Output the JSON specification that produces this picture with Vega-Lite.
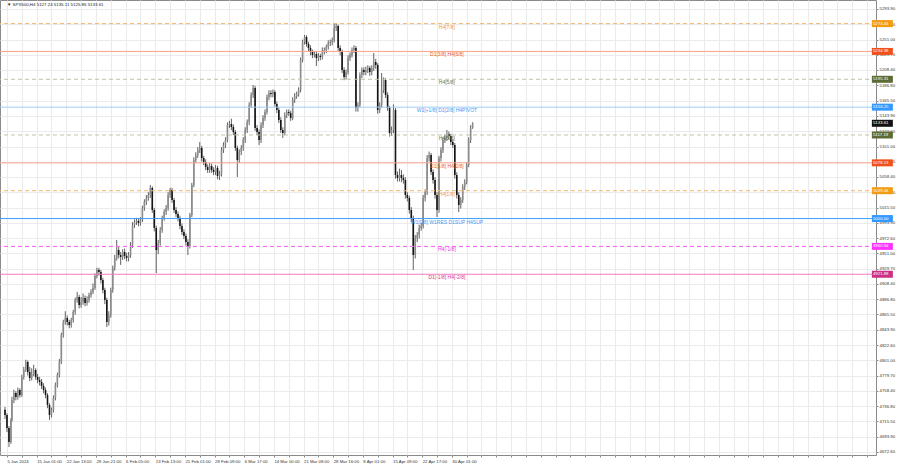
{
  "$schema": "https://vega.github.io/schema/vega-lite/v6.json",
  "width": 876,
  "height": 455,
  "autosize": "none",
  "padding": {"left": 0, "top": 0, "right": 24, "bottom": 13},
  "background": "white",
  "config": {"view": {"stroke": "#8a8a8a", "strokeWidth": 1}, "font": "Liberation Sans"},
  "datasets": {
    "bars": [
      {"i":0,"o":4732.0,"h":4736.0,"l":4719.0,"c":4724.5},
      {"i":2,"o":4724.5,"h":4727.0,"l":4700.5,"c":4706.3},
      {"i":4,"o":4706.3,"h":4709.0,"l":4679.6,"c":4686.6},
      {"i":6,"o":4686.6,"h":4720.0,"l":4684.0,"c":4717.5},
      {"i":7,"o":4717.5,"h":4750.0,"l":4715.0,"c":4745.5},
      {"i":9,"o":4745.5,"h":4760.0,"l":4741.0,"c":4755.3},
      {"i":11,"o":4755.3,"h":4758.0,"l":4745.0,"c":4749.7},
      {"i":13,"o":4749.7,"h":4763.0,"l":4746.0,"c":4759.5},
      {"i":15,"o":4759.5,"h":4762.0,"l":4749.0,"c":4752.5},
      {"i":17,"o":4752.5,"h":4781.0,"l":4750.0,"c":4777.8},
      {"i":19,"o":4777.8,"h":4792.0,"l":4774.0,"c":4787.6},
      {"i":21,"o":4787.6,"h":4802.0,"l":4785.0,"c":4798.8},
      {"i":23,"o":4798.8,"h":4801.0,"l":4780.0,"c":4784.8},
      {"i":25,"o":4784.8,"h":4792.0,"l":4772.0,"c":4776.4},
      {"i":27,"o":4776.4,"h":4790.0,"l":4773.0,"c":4782.0},
      {"i":29,"o":4782.0,"h":4795.0,"l":4779.0,"c":4787.6},
      {"i":31,"o":4787.6,"h":4790.0,"l":4774.0,"c":4777.8},
      {"i":33,"o":4777.8,"h":4782.0,"l":4769.0,"c":4773.6},
      {"i":35,"o":4773.6,"h":4778.0,"l":4766.0,"c":4770.8},
      {"i":37,"o":4770.8,"h":4775.0,"l":4761.0,"c":4765.2},
      {"i":39,"o":4765.2,"h":4769.0,"l":4755.0,"c":4759.5},
      {"i":41,"o":4759.5,"h":4763.0,"l":4748.0,"c":4752.5},
      {"i":43,"o":4752.5,"h":4755.0,"l":4734.0,"c":4738.5},
      {"i":45,"o":4738.5,"h":4741.0,"l":4717.5,"c":4724.5},
      {"i":47,"o":4724.5,"h":4735.0,"l":4721.0,"c":4731.5},
      {"i":49,"o":4731.5,"h":4752.0,"l":4728.0,"c":4748.3},
      {"i":51,"o":4748.3,"h":4770.0,"l":4745.0,"c":4766.6},
      {"i":53,"o":4766.6,"h":4784.0,"l":4763.0,"c":4780.6},
      {"i":55,"o":4780.6,"h":4803.0,"l":4777.0,"c":4798.8},
      {"i":57,"o":4798.8,"h":4840.0,"l":4796.0,"c":4836.7},
      {"i":59,"o":4836.7,"h":4858.0,"l":4833.0,"c":4854.9},
      {"i":61,"o":4854.9,"h":4870.0,"l":4851.0,"c":4860.5},
      {"i":63,"o":4860.5,"h":4864.0,"l":4850.0,"c":4854.9},
      {"i":65,"o":4854.9,"h":4858.0,"l":4846.0,"c":4850.7},
      {"i":67,"o":4850.7,"h":4861.0,"l":4847.0,"c":4857.7},
      {"i":69,"o":4857.7,"h":4872.0,"l":4854.0,"c":4868.9},
      {"i":71,"o":4868.9,"h":4889.0,"l":4865.0,"c":4885.8},
      {"i":73,"o":4885.8,"h":4897.0,"l":4882.0,"c":4890.0},
      {"i":75,"o":4890.0,"h":4893.0,"l":4874.0,"c":4878.8},
      {"i":77,"o":4878.8,"h":4890.0,"l":4875.0,"c":4883.0},
      {"i":79,"o":4883.0,"h":4895.0,"l":4879.0,"c":4888.6},
      {"i":81,"o":4888.6,"h":4892.0,"l":4877.0,"c":4881.6},
      {"i":83,"o":4881.6,"h":4891.0,"l":4878.0,"c":4885.8},
      {"i":85,"o":4885.8,"h":4896.0,"l":4882.0,"c":4892.8},
      {"i":87,"o":4892.8,"h":4901.0,"l":4889.0,"c":4897.0},
      {"i":89,"o":4897.0,"h":4909.0,"l":4894.0,"c":4902.6},
      {"i":91,"o":4902.6,"h":4923.0,"l":4900.0,"c":4919.4},
      {"i":93,"o":4919.4,"h":4931.0,"l":4916.0,"c":4927.8},
      {"i":95,"o":4927.8,"h":4931.0,"l":4920.0,"c":4925.0},
      {"i":97,"o":4925.0,"h":4928.0,"l":4909.0,"c":4913.8},
      {"i":99,"o":4913.8,"h":4917.0,"l":4895.0,"c":4899.8},
      {"i":101,"o":4899.8,"h":4903.0,"l":4880.0,"c":4885.8},
      {"i":103,"o":4885.8,"h":4889.0,"l":4847.9,"c":4854.9},
      {"i":105,"o":4854.9,"h":4870.0,"l":4850.0,"c":4864.7},
      {"i":107,"o":4864.7,"h":4903.0,"l":4861.0,"c":4899.8},
      {"i":109,"o":4899.8,"h":4934.0,"l":4896.0,"c":4930.7},
      {"i":111,"o":4930.7,"h":4949.0,"l":4927.0,"c":4944.7},
      {"i":113,"o":4944.7,"h":4970.0,"l":4941.0,"c":4955.9},
      {"i":115,"o":4955.9,"h":4960.0,"l":4944.0,"c":4948.9},
      {"i":117,"o":4948.9,"h":4953.0,"l":4935.0,"c":4946.1},
      {"i":119,"o":4946.1,"h":4957.0,"l":4942.0,"c":4953.1},
      {"i":121,"o":4953.1,"h":4958.0,"l":4943.0,"c":4947.5},
      {"i":123,"o":4947.5,"h":4952.0,"l":4940.0,"c":4944.7},
      {"i":125,"o":4944.7,"h":4953.0,"l":4940.0,"c":4948.9},
      {"i":127,"o":4948.9,"h":4967.0,"l":4945.0,"c":4962.9},
      {"i":129,"o":4962.9,"h":4995.0,"l":4959.0,"c":4991.0},
      {"i":131,"o":4991.0,"h":4999.0,"l":4987.0,"c":4995.2},
      {"i":133,"o":4995.2,"h":5001.0,"l":4991.0,"c":4996.6},
      {"i":135,"o":4996.6,"h":5000.0,"l":4989.0,"c":4993.8},
      {"i":137,"o":4993.8,"h":5002.0,"l":4990.0,"c":4998.0},
      {"i":139,"o":4998.0,"h":5018.0,"l":4995.0,"c":5014.8},
      {"i":141,"o":5014.8,"h":5027.0,"l":5011.0,"c":5023.2},
      {"i":143,"o":5023.2,"h":5033.0,"l":5019.0,"c":5028.8},
      {"i":145,"o":5028.8,"h":5037.0,"l":5025.0,"c":5033.0},
      {"i":147,"o":5033.0,"h":5047.1,"l":5029.0,"c":5042.9},
      {"i":149,"o":5042.9,"h":5045.0,"l":5008.0,"c":5012.0},
      {"i":151,"o":5012.0,"h":5015.0,"l":4982.0,"c":4986.8},
      {"i":153,"o":4986.8,"h":4990.0,"l":4923.6,"c":4955.9},
      {"i":155,"o":4955.9,"h":4970.0,"l":4950.0,"c":4965.7},
      {"i":157,"o":4965.7,"h":4988.0,"l":4962.0,"c":4983.9},
      {"i":159,"o":4983.9,"h":5004.0,"l":4980.0,"c":5000.8},
      {"i":161,"o":5000.8,"h":5013.0,"l":4997.0,"c":5009.2},
      {"i":163,"o":5009.2,"h":5019.0,"l":5005.0,"c":5014.8},
      {"i":165,"o":5014.8,"h":5037.0,"l":5011.0,"c":5033.0},
      {"i":167,"o":5033.0,"h":5042.9,"l":5029.0,"c":5040.0},
      {"i":169,"o":5040.0,"h":5043.0,"l":5022.0,"c":5026.0},
      {"i":171,"o":5026.0,"h":5029.0,"l":5008.0,"c":5012.0},
      {"i":173,"o":5012.0,"h":5016.0,"l":5002.0,"c":5006.4},
      {"i":175,"o":5006.4,"h":5010.0,"l":4996.0,"c":5000.8},
      {"i":177,"o":5000.8,"h":5004.0,"l":4985.0,"c":4989.6},
      {"i":179,"o":4989.6,"h":4993.0,"l":4977.0,"c":4981.1},
      {"i":181,"o":4981.1,"h":4985.0,"l":4971.0,"c":4975.5},
      {"i":183,"o":4975.5,"h":4979.0,"l":4962.0,"c":4967.1},
      {"i":185,"o":4967.1,"h":4971.0,"l":4948.9,"c":4961.5},
      {"i":187,"o":4961.5,"h":5008.0,"l":4958.0,"c":5005.0},
      {"i":189,"o":5005.0,"h":5050.0,"l":5002.0,"c":5047.1},
      {"i":191,"o":5047.1,"h":5086.0,"l":5044.0,"c":5082.1},
      {"i":193,"o":5082.1,"h":5093.0,"l":5078.0,"c":5089.1},
      {"i":195,"o":5089.1,"h":5100.0,"l":5085.0,"c":5096.1},
      {"i":197,"o":5096.1,"h":5107.4,"l":5092.0,"c":5099.0},
      {"i":199,"o":5099.0,"h":5102.0,"l":5080.0,"c":5084.9},
      {"i":201,"o":5084.9,"h":5088.0,"l":5075.0,"c":5079.3},
      {"i":203,"o":5079.3,"h":5083.0,"l":5068.0,"c":5072.3},
      {"i":205,"o":5072.3,"h":5076.0,"l":5064.0,"c":5068.1},
      {"i":207,"o":5068.1,"h":5078.0,"l":5064.0,"c":5073.7},
      {"i":209,"o":5073.7,"h":5077.0,"l":5064.0,"c":5068.1},
      {"i":211,"o":5068.1,"h":5072.0,"l":5061.0,"c":5065.3},
      {"i":213,"o":5065.3,"h":5075.0,"l":5061.0,"c":5070.9},
      {"i":215,"o":5070.9,"h":5074.0,"l":5055.0,"c":5059.7},
      {"i":217,"o":5059.7,"h":5067.0,"l":5054.0,"c":5062.5},
      {"i":219,"o":5062.5,"h":5100.0,"l":5059.0,"c":5096.1},
      {"i":221,"o":5096.1,"h":5107.0,"l":5092.0,"c":5103.2},
      {"i":223,"o":5103.2,"h":5114.0,"l":5099.0,"c":5110.2},
      {"i":225,"o":5110.2,"h":5135.0,"l":5107.0,"c":5131.2},
      {"i":227,"o":5131.2,"h":5137.0,"l":5127.0,"c":5132.6},
      {"i":229,"o":5132.6,"h":5140.0,"l":5124.0,"c":5128.4},
      {"i":231,"o":5128.4,"h":5132.0,"l":5117.0,"c":5121.4},
      {"i":233,"o":5121.4,"h":5124.0,"l":5095.0,"c":5099.0},
      {"i":235,"o":5099.0,"h":5102.0,"l":5058.3,"c":5082.1},
      {"i":237,"o":5082.1,"h":5097.0,"l":5078.0,"c":5093.3},
      {"i":239,"o":5093.3,"h":5103.0,"l":5089.0,"c":5099.0},
      {"i":241,"o":5099.0,"h":5114.0,"l":5095.0,"c":5110.2},
      {"i":243,"o":5110.2,"h":5128.0,"l":5106.0,"c":5124.2},
      {"i":245,"o":5124.2,"h":5139.0,"l":5120.0,"c":5135.4},
      {"i":247,"o":5135.4,"h":5163.0,"l":5131.0,"c":5159.3},
      {"i":249,"o":5159.3,"h":5177.0,"l":5155.0,"c":5173.3},
      {"i":251,"o":5173.3,"h":5187.3,"l":5169.0,"c":5183.1},
      {"i":253,"o":5183.1,"h":5186.0,"l":5123.0,"c":5127.0},
      {"i":255,"o":5127.0,"h":5131.0,"l":5117.0,"c":5121.4},
      {"i":257,"o":5121.4,"h":5125.0,"l":5103.2,"c":5110.2},
      {"i":259,"o":5110.2,"h":5135.0,"l":5106.0,"c":5131.2},
      {"i":261,"o":5131.2,"h":5145.0,"l":5127.0,"c":5141.0},
      {"i":263,"o":5141.0,"h":5153.0,"l":5137.0,"c":5149.4},
      {"i":265,"o":5149.4,"h":5174.0,"l":5146.0,"c":5170.5},
      {"i":267,"o":5170.5,"h":5180.0,"l":5166.0,"c":5176.1},
      {"i":269,"o":5176.1,"h":5180.0,"l":5170.0,"c":5174.7},
      {"i":271,"o":5174.7,"h":5181.0,"l":5170.0,"c":5177.5},
      {"i":273,"o":5177.5,"h":5180.0,"l":5157.0,"c":5160.7},
      {"i":275,"o":5160.7,"h":5164.0,"l":5148.0,"c":5152.2},
      {"i":277,"o":5152.2,"h":5156.0,"l":5134.0,"c":5138.2},
      {"i":279,"o":5138.2,"h":5142.0,"l":5120.0,"c":5124.2},
      {"i":281,"o":5124.2,"h":5128.0,"l":5113.0,"c":5120.0},
      {"i":283,"o":5120.0,"h":5149.0,"l":5117.0,"c":5145.2},
      {"i":285,"o":5145.2,"h":5153.0,"l":5141.0,"c":5149.4},
      {"i":287,"o":5149.4,"h":5153.0,"l":5144.0,"c":5148.0},
      {"i":289,"o":5148.0,"h":5151.0,"l":5137.0,"c":5141.0},
      {"i":291,"o":5141.0,"h":5170.0,"l":5138.0,"c":5166.3},
      {"i":293,"o":5166.3,"h":5176.0,"l":5162.0,"c":5171.9},
      {"i":295,"o":5171.9,"h":5178.0,"l":5168.0,"c":5174.7},
      {"i":297,"o":5174.7,"h":5184.0,"l":5171.0,"c":5180.3},
      {"i":299,"o":5180.3,"h":5226.0,"l":5177.0,"c":5222.4},
      {"i":301,"o":5222.4,"h":5251.0,"l":5219.0,"c":5247.6},
      {"i":303,"o":5247.6,"h":5257.4,"l":5244.0,"c":5254.6},
      {"i":305,"o":5254.6,"h":5257.0,"l":5241.0,"c":5244.8},
      {"i":307,"o":5244.8,"h":5248.0,"l":5235.0,"c":5239.2},
      {"i":309,"o":5239.2,"h":5243.0,"l":5229.0,"c":5233.6},
      {"i":311,"o":5233.6,"h":5237.0,"l":5225.0,"c":5229.4},
      {"i":313,"o":5229.4,"h":5235.0,"l":5226.0,"c":5230.8},
      {"i":315,"o":5230.8,"h":5234.0,"l":5214.0,"c":5225.2},
      {"i":317,"o":5225.2,"h":5232.0,"l":5221.0,"c":5228.0},
      {"i":319,"o":5228.0,"h":5231.0,"l":5222.0,"c":5226.6},
      {"i":321,"o":5226.6,"h":5240.0,"l":5223.0,"c":5233.6},
      {"i":323,"o":5233.6,"h":5240.0,"l":5230.0,"c":5236.4},
      {"i":325,"o":5236.4,"h":5244.0,"l":5232.0,"c":5240.6},
      {"i":327,"o":5240.6,"h":5250.0,"l":5237.0,"c":5246.2},
      {"i":329,"o":5246.2,"h":5251.0,"l":5242.0,"c":5247.6},
      {"i":331,"o":5247.6,"h":5254.0,"l":5243.0,"c":5250.4},
      {"i":333,"o":5250.4,"h":5274.3,"l":5247.0,"c":5267.3},
      {"i":335,"o":5267.3,"h":5274.3,"l":5263.0,"c":5270.1},
      {"i":337,"o":5270.1,"h":5272.0,"l":5235.0,"c":5239.2},
      {"i":339,"o":5239.2,"h":5243.0,"l":5229.0,"c":5233.6},
      {"i":341,"o":5233.6,"h":5237.0,"l":5204.0,"c":5208.3},
      {"i":343,"o":5208.3,"h":5212.0,"l":5194.0,"c":5198.5},
      {"i":345,"o":5198.5,"h":5209.0,"l":5195.0,"c":5205.5},
      {"i":347,"o":5205.5,"h":5229.0,"l":5202.0,"c":5225.2},
      {"i":349,"o":5225.2,"h":5233.0,"l":5221.0,"c":5229.4},
      {"i":351,"o":5229.4,"h":5240.0,"l":5226.0,"c":5236.4},
      {"i":353,"o":5236.4,"h":5243.0,"l":5232.0,"c":5239.2},
      {"i":355,"o":5239.2,"h":5242.0,"l":5150.0,"c":5155.1},
      {"i":357,"o":5155.1,"h":5163.0,"l":5150.0,"c":5159.3},
      {"i":359,"o":5159.3,"h":5205.0,"l":5156.0,"c":5201.3},
      {"i":361,"o":5201.3,"h":5212.0,"l":5197.0,"c":5208.3},
      {"i":363,"o":5208.3,"h":5212.0,"l":5201.0,"c":5205.5},
      {"i":365,"o":5205.5,"h":5213.0,"l":5201.0,"c":5208.3},
      {"i":367,"o":5208.3,"h":5215.0,"l":5204.0,"c":5211.2},
      {"i":369,"o":5211.2,"h":5214.0,"l":5200.0,"c":5205.5},
      {"i":371,"o":5205.5,"h":5215.0,"l":5201.0,"c":5211.2},
      {"i":373,"o":5211.2,"h":5232.2,"l":5207.0,"c":5219.6},
      {"i":375,"o":5219.6,"h":5224.0,"l":5210.0,"c":5215.4},
      {"i":377,"o":5215.4,"h":5218.0,"l":5147.0,"c":5152.2},
      {"i":379,"o":5152.2,"h":5163.0,"l":5148.0,"c":5159.3},
      {"i":381,"o":5159.3,"h":5204.1,"l":5155.0,"c":5180.3},
      {"i":383,"o":5180.3,"h":5198.0,"l":5176.0,"c":5194.3},
      {"i":385,"o":5194.3,"h":5197.0,"l":5169.0,"c":5173.3},
      {"i":387,"o":5173.3,"h":5177.0,"l":5151.0,"c":5155.1},
      {"i":389,"o":5155.1,"h":5158.0,"l":5115.0,"c":5120.0},
      {"i":391,"o":5120.0,"h":5129.0,"l":5116.0,"c":5124.2},
      {"i":393,"o":5124.2,"h":5160.0,"l":5120.0,"c":5152.2},
      {"i":395,"o":5152.2,"h":5155.0,"l":5056.0,"c":5061.1},
      {"i":397,"o":5061.1,"h":5066.0,"l":5052.0,"c":5056.9},
      {"i":399,"o":5056.9,"h":5070.0,"l":5052.0,"c":5061.1},
      {"i":401,"o":5061.1,"h":5068.0,"l":5051.0,"c":5056.9},
      {"i":403,"o":5056.9,"h":5062.0,"l":5049.0,"c":5054.1},
      {"i":405,"o":5054.1,"h":5058.0,"l":5028.0,"c":5033.0},
      {"i":407,"o":5033.0,"h":5037.0,"l":5024.0,"c":5028.8},
      {"i":409,"o":5028.8,"h":5032.0,"l":5007.0,"c":5012.0},
      {"i":411,"o":5012.0,"h":5016.0,"l":4995.0,"c":5000.8},
      {"i":413,"o":5000.8,"h":5004.0,"l":4927.8,"c":4948.9},
      {"i":415,"o":4948.9,"h":4977.0,"l":4944.0,"c":4972.7},
      {"i":417,"o":4972.7,"h":4981.0,"l":4967.0,"c":4976.9},
      {"i":419,"o":4976.9,"h":4991.0,"l":4972.0,"c":4986.8},
      {"i":421,"o":4986.8,"h":4994.0,"l":4983.0,"c":4989.6},
      {"i":423,"o":4989.6,"h":5033.0,"l":4986.0,"c":5028.8},
      {"i":425,"o":5028.8,"h":5041.0,"l":5024.0,"c":5037.2},
      {"i":427,"o":5037.2,"h":5089.0,"l":5033.0,"c":5084.9},
      {"i":429,"o":5084.9,"h":5094.0,"l":5080.0,"c":5089.1},
      {"i":431,"o":5089.1,"h":5092.0,"l":5061.0,"c":5065.3},
      {"i":433,"o":5065.3,"h":5069.0,"l":5049.0,"c":5054.1},
      {"i":435,"o":5054.1,"h":5058.0,"l":5028.0,"c":5033.0},
      {"i":437,"o":5033.0,"h":5037.0,"l":5002.2,"c":5012.0},
      {"i":439,"o":5012.0,"h":5088.0,"l":5008.0,"c":5084.9},
      {"i":441,"o":5084.9,"h":5100.0,"l":5080.0,"c":5096.1},
      {"i":443,"o":5096.1,"h":5114.0,"l":5092.0,"c":5110.2},
      {"i":445,"o":5110.2,"h":5118.0,"l":5106.0,"c":5113.0},
      {"i":447,"o":5113.0,"h":5124.2,"l":5109.0,"c":5118.6},
      {"i":449,"o":5118.6,"h":5122.0,"l":5111.0,"c":5115.8},
      {"i":451,"o":5115.8,"h":5119.0,"l":5103.0,"c":5107.4},
      {"i":453,"o":5107.4,"h":5111.0,"l":5099.0,"c":5103.2},
      {"i":455,"o":5103.2,"h":5106.0,"l":5056.0,"c":5061.1},
      {"i":457,"o":5061.1,"h":5065.0,"l":5028.0,"c":5033.0},
      {"i":459,"o":5033.0,"h":5037.0,"l":5009.2,"c":5019.0},
      {"i":461,"o":5019.0,"h":5030.0,"l":5014.0,"c":5026.0},
      {"i":463,"o":5026.0,"h":5048.0,"l":5022.0,"c":5044.3},
      {"i":465,"o":5044.3,"h":5055.0,"l":5040.0,"c":5051.3},
      {"i":467,"o":5051.3,"h":5079.0,"l":5048.0,"c":5075.1},
      {"i":469,"o":5075.1,"h":5114.0,"l":5072.0,"c":5110.2},
      {"i":471,"o":5110.2,"h":5131.0,"l":5106.0,"c":5127.0},
      {"i":473,"o":5127.24,"h":5135.11,"l":5125.86,"c":5133.61}
    ],
    "levels": [
      {"price":5273.44,"label":"H4[7/8]","tf":"H4"},
      {"price":5234.38,"label":"D1[3/8] H4[6/8]","tf":"D1"},
      {"price":5195.31,"label":"H4[5/8]","tf":"H4"},
      {"price":5156.25,"label":"W1[+1/8] D1[2/8] H4PIVOT","tf":"W1"},
      {"price":5117.19,"label":"H4[3/8]","tf":"H4"},
      {"price":5078.13,"label":"D1[1/8] H4[2/8]","tf":"D1"},
      {"price":5039.06,"label":"H4[1/8]","tf":"H4"},
      {"price":5000.00,"label":"W1[0/8] W1RES D1SUP H4SUP","tf":"W1"},
      {"price":4960.94,"label":"H4[-1/8]","tf":"H4"},
      {"price":4921.88,"label":"D1[-1/8] H4[-2/8]","tf":"D1"}
    ],
    "last": [{"price":5133.61}],
    "header": [{"t":"▼ SPX500,H4  5127.24 5135.11 5125.86 5133.61"}]
  },
  "layer": [
    {
      "data": {"name": "bars"},
      "mark": {"type": "rule", "color": "#3a3a3a", "strokeWidth": 0.8},
      "encoding": {
        "x": {
          "field": "i", "type": "quantitative", "title": null,
          "scale": {"domain": [0, 876], "nice": false, "zero": false},
          "axis": {
            "title": null, "domain": false, "grid": true, "gridColor": "#ebebeb", "gridWidth": 1, "tickCount": 1000,
            "values": [2,17,32,47,62,77,92,107,122,137,152,167,182,197,212,227,242,257,272,287,302,317,332,347,362,377,392,407,422,437,452,467,482,497,512,527,542,557,572,587,602,617,632,647,662,677,692,707,722,737,752,767,782,797,812,827,842,857,872],
            "labelExpr": "(datum.value - 2) % 30 ? '' : (['5 Jan 2024','15 Jan 01:00','22 Jan 13:00','29 Jan 21:00','6 Feb 05:00','13 Feb 13:00','21 Feb 01:00','28 Feb 09:00','6 Mar 17:00','14 Mar 00:00','21 Mar 08:00','28 Mar 16:00','8 Apr 01:00','15 Apr 09:00','22 Apr 17:00','30 Apr 01:00'][(datum.value - 2) / 30] || '')",
            "labelAlign": "left", "labelFontSize": 4.3, "labelColor": "#333", "labelPadding": 2,
            "ticks": true, "tickSize": 2, "tickColor": "#888", "labelOverlap": false, "labelFlush": false
          }
        },
        "y": {
          "field": "l", "type": "quantitative", "title": null,
          "scale": {"domain": [4668.39, 5306.52], "nice": false, "zero": false},
          "axis": {
            "title": null, "orient": "right", "domain": false, "grid": true, "gridColor": "#ebebeb", "tickCount": 1000,
            "values": [5293.9,5272.6,5251.0,5229.7,5208.4,5186.8,5165.5,5143.9,5122.6,5101.0,5079.7,5058.4,5036.8,5015.5,4993.9,4972.6,4951.0,4929.7,4908.4,4886.8,4865.5,4843.9,4822.6,4801.0,4779.7,4758.4,4736.8,4715.5,4693.9,4672.6],
            "format": ".2f", "labelFontSize": 4.3, "labelColor": "#333", "labelPadding": 1,
            "tickSize": 2, "tickColor": "#888", "labelOverlap": false, "labelFlush": false
          }
        },
        "y2": {"field": "h"}
      }
    },
    {
      "data": {"name": "bars"},
      "mark": {"type": "bar", "size": 1.6},
      "encoding": {
        "x": {"field": "i", "type": "quantitative", "title": null},
        "y": {"field": "o", "type": "quantitative", "title": null},
        "y2": {"field": "c"},
        "color": {"condition": {"test": "datum.c >= datum.o", "value": "#8c8c8c"}, "value": "#151515"}
      }
    },
    {
      "data": {"name": "levels"},
      "transform": [{"filter": "datum.tf != 'H4'"}],
      "mark": {"type": "rule", "strokeWidth": 1},
      "encoding": {
        "y": {"field": "price", "type": "quantitative", "title": null},
        "stroke": {
          "field": "label", "type": "nominal", "legend": null,
          "scale": {
            "domain": ["H4[7/8]","D1[3/8] H4[6/8]","H4[5/8]","W1[+1/8] D1[2/8] H4PIVOT","H4[3/8]","D1[1/8] H4[2/8]","H4[1/8]","W1[0/8] W1RES D1SUP H4SUP","H4[-1/8]","D1[-1/8] H4[-2/8]"],
            "range": ["#f7b66a","#f7a48c","#c2c2a6","#9ccff5","#c2c2a6","#f7a48c","#f7b66a","#3c9ef5","#f55cf5","#f27cc0"]
          }
        }
      }
    },
    {
      "data": {"name": "levels"},
      "transform": [{"filter": "datum.tf == 'H4'"}],
      "mark": {"type": "rule", "strokeWidth": 1, "strokeDash": [4, 3]},
      "encoding": {
        "y": {"field": "price", "type": "quantitative", "title": null},
        "stroke": {"field": "label", "type": "nominal", "legend": null}
      }
    },
    {
      "data": {"name": "levels"},
      "mark": {"type": "text", "align": "center", "baseline": "top", "dy": 1, "fontSize": 5},
      "encoding": {
        "x": {"datum": 447, "type": "quantitative", "title": null},
        "y": {"field": "price", "type": "quantitative", "title": null},
        "text": {"field": "label"},
        "fill": {
          "field": "label", "type": "nominal", "legend": null,
          "scale": {
            "domain": ["H4[7/8]","D1[3/8] H4[6/8]","H4[5/8]","W1[+1/8] D1[2/8] H4PIVOT","H4[3/8]","D1[1/8] H4[2/8]","H4[1/8]","W1[0/8] W1RES D1SUP H4SUP","H4[-1/8]","D1[-1/8] H4[-2/8]"],
            "range": ["#f39c2c","#f0582a","#6e7438","#3d9bf2","#6e7438","#f0582a","#f39c2c","#3d9bf2","#ee33ee","#d9378f"]
          }
        }
      }
    },
    {
      "data": {"name": "levels"},
      "mark": {"type": "tick", "orient": "horizontal", "size": 21, "thickness": 7, "opacity": 1},
      "encoding": {
        "x": {"datum": 887.5, "type": "quantitative", "title": null},
        "y": {"field": "price", "type": "quantitative", "title": null},
        "color": {
          "field": "label", "type": "nominal", "legend": null,
          "scale": {
            "domain": ["H4[7/8]","D1[3/8] H4[6/8]","H4[5/8]","W1[+1/8] D1[2/8] H4PIVOT","H4[3/8]","D1[1/8] H4[2/8]","H4[1/8]","W1[0/8] W1RES D1SUP H4SUP","H4[-1/8]","D1[-1/8] H4[-2/8]"],
            "range": ["#f39c12","#f0501c","#5d6b34","#3399ff","#5d6b34","#f0501c","#f39c12","#3399ff","#ff33ff","#cc2f86"]
          }
        }
      }
    },
    {
      "data": {"name": "last"},
      "mark": {"type": "tick", "orient": "horizontal", "size": 21, "thickness": 7, "opacity": 1, "color": "#111111"},
      "encoding": {
        "x": {"datum": 887.5, "type": "quantitative", "title": null},
        "y": {"field": "price", "type": "quantitative", "title": null}
      }
    },
    {
      "data": {"name": "levels"},
      "mark": {"type": "text", "align": "left", "baseline": "middle", "fontSize": 4.3, "color": "white"},
      "encoding": {
        "x": {"datum": 878, "type": "quantitative", "title": null},
        "y": {"field": "price", "type": "quantitative", "title": null},
        "text": {"field": "price", "type": "quantitative", "format": ".2f"}
      }
    },
    {
      "data": {"name": "last"},
      "mark": {"type": "text", "align": "left", "baseline": "middle", "fontSize": 4.3, "color": "white"},
      "encoding": {
        "x": {"datum": 878, "type": "quantitative", "title": null},
        "y": {"field": "price", "type": "quantitative", "title": null},
        "text": {"field": "price", "type": "quantitative", "format": ".2f"}
      }
    },
    {
      "data": {"name": "header"},
      "mark": {"type": "text", "align": "left", "baseline": "middle", "fontSize": 4.4, "color": "#222"},
      "encoding": {
        "x": {"datum": 2, "type": "quantitative", "title": null},
        "y": {"datum": 5299.9, "type": "quantitative", "title": null},
        "text": {"field": "t"}
      }
    }
  ]
}
